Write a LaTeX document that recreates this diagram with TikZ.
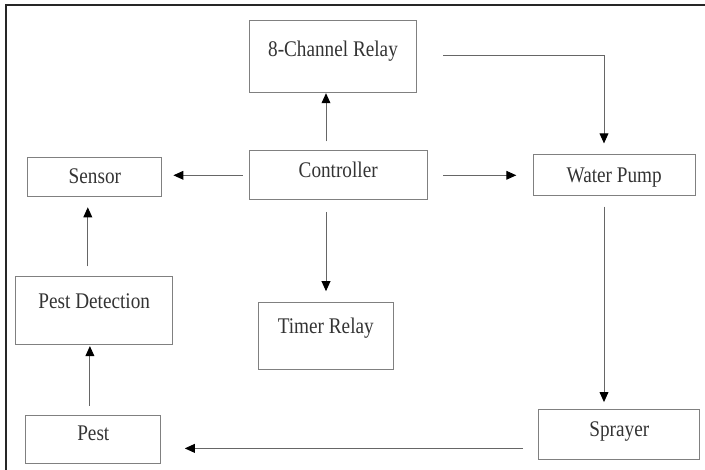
\documentclass[tikz,border=0pt]{standalone}
\usepackage{fontspec}
\setmainfont{Liberation Serif}[FakeStretch=0.86]
\usepackage{tikz}
\usetikzlibrary{arrows.meta}

\tikzset{
  blockbox/.style={draw=black!50, line width=0.7pt, inner sep=0pt, text=black!80,
    font=\fontsize{15.9pt}{18pt}\selectfont, text height=10.5pt},
  arr/.style={draw=black!60, line width=0.7pt, -{Triangle[length=2.5mm,width=2.2mm,color=black]}}
}

\begin{document}
\begin{tikzpicture}[x=0.25mm, y=-0.25mm]
    \useasboundingbox (0,0) rectangle (705,470);

    % Frame (only left and top edges show)
    \draw[line width=1.2pt, black!85] (6,470) -- (6,5) -- (705,5);

    % Blocks: name/x/y/width/height/text shift/label
    \foreach \n/\x/\y/\w/\h/\d/\t in {relay/333/56.7/41.85/18/3.85/8-Channel Relay,
        ctrl/338.2/175.3/44.6/12.3/2.35/Controller,
        sensor/94.9/176.5/33.5/9.75/0/Sensor,
        wp/614.2/175.3/40.4/10.2/0/Water Pump,
        pestdet/94.2/310/39.25/17/4.5/Pest Detection,
        timer/325.8/336/33.75/16.65/5/Timer Relay,
        pest/93.3/439.2/33.7/12.1/3/Pest,
        sprayer/619.3/434/40.3/12.5/2.35/Sprayer} {
      \node[blockbox, minimum width=\w mm, minimum height=\h mm, text depth=\d mm] (\n) at (\x,\y) {\t};
    }

    % Controller outputs
    \draw[arr, shorten <=2.2mm] ([xshift=-3.05mm]ctrl.north) -- ([xshift=-3.05mm]ctrl.north |- relay.south);
    \draw[arr, shorten <=1.5mm, shorten >=2.75mm] (ctrl.west) -- (ctrl.west -| sensor.east);
    \draw[arr, shorten <=3.9mm, shorten >=4.15mm] (ctrl.east) -- (ctrl.east -| wp.west);
    \draw[arr, shorten <=2.9mm, shorten >=2.75mm] ([xshift=-3.05mm]ctrl.south) -- ([xshift=-3.05mm]ctrl.south |- timer.north);

    % Relay to pump, pump to sprayer
    \draw[arr, shorten <=6.5mm, shorten >=2.75mm] ([yshift=0.4mm]relay.east) -| ([xshift=-2.55mm]wp.north);
    \draw[arr, shorten <=2.6mm, shorten >=1.6mm] ([xshift=-2.55mm]wp.south) -- ([xshift=-2.55mm]wp.south |- sprayer.north);

    % Loop back through the pest
    \draw[arr, shorten <=3.75mm, shorten >=5.9mm] ([yshift=-3.6mm]sprayer.west) -- ([yshift=-3.6mm]sprayer.west -| pest.east);
    \draw[arr, shorten <=2.25mm, shorten >=0.4mm] ([xshift=-0.85mm]pest.north) -- ([xshift=-0.85mm]pest.north |- pestdet.south);
    \draw[arr, shorten <=2.3mm, shorten >=2.7mm] ([xshift=-1.6mm]pestdet.north) -- ([xshift=-1.6mm]pestdet.north |- sensor.south);
\end{tikzpicture}
\end{document}
